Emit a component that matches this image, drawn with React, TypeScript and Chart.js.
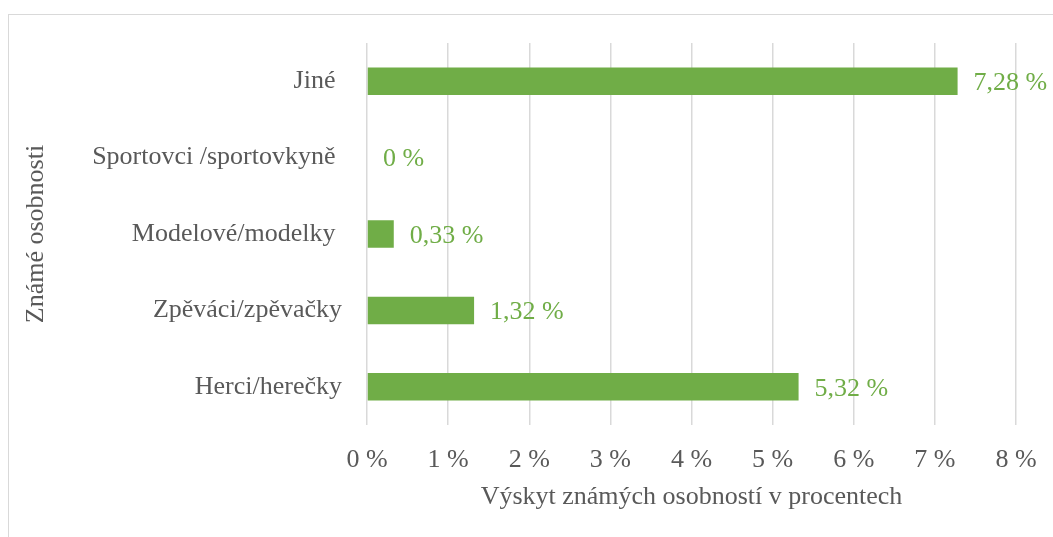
import React, { useEffect, useRef } from "react";
import { Chart, registerables } from "chart.js";

Chart.register(...registerables);

const categories = [
  "Jiné ",
  "Sportovci /sportovkyně ",
  "Modelové/modelky ",
  "Zpěváci/zpěvačky",
  "Herci/herečky",
];
const values = [7.28, 0, 0.33, 1.32, 5.32];
const valueLabels = ["7,28 %", "0 %", "0,33 %", "1,32 %", "5,32 %"];
const xTickMax = 8;
const xTitle = "Výskyt známých osobností v procentech";
const yTitle = "Známé osobnosti";

const FONT = "'Liberation Serif', 'Times New Roman', serif";
const GREEN = "#70ad47";
const TEXT = "#595959";
const GRID = "#d9d9d9";

const dataLabelPlugin = {
  id: "dataLabels",
  afterDatasetsDraw(chart: any) {
    const ctx = chart.ctx;
    const meta = chart.getDatasetMeta(0);
    ctx.save();
    ctx.font = `26px ${FONT}`;
    ctx.fillStyle = GREEN;
    ctx.textAlign = "left";
    ctx.textBaseline = "middle";
    meta.data.forEach((el: any, i: number) => {
      ctx.fillText(valueLabels[i], el.x + 16, el.y + 2);
    });
    ctx.restore();
  },
};

export default function App() {
  const ref = useRef<HTMLCanvasElement | null>(null);
  useEffect(() => {
    if (!ref.current) return;
    const chart = new Chart(ref.current, {
      type: "bar",
      data: {
        labels: categories,
        datasets: [
          {
            data: values,
            backgroundColor: GREEN,
            borderWidth: 0,
            barPercentage: 0.45,
            categoryPercentage: 0.8,
          },
        ],
      },
      options: {
        indexAxis: "y",
        animation: false,
        responsive: false,
        maintainAspectRatio: false,
        layout: { padding: { left: 0, top: 43, right: 37, bottom: 0 } },
        plugins: {
          legend: { display: false },
          tooltip: { enabled: false },
        },
        scales: {
          x: {
            min: 0,
            max: xTickMax,
            ticks: {
              stepSize: 1,
              padding: 14,
              color: TEXT,
              font: { family: FONT, size: 26, lineHeight: 1.6 },
              callback: (v: any) => `${v} %`,
              maxRotation: 0,
            },
            grid: { color: GRID, lineWidth: 1.5, drawTicks: false },
            border: { display: false },
            title: {
              display: true,
              text: xTitle,
              color: TEXT,
              font: { family: FONT, size: 26 },
              padding: { top: 0, bottom: 24 },
            },
            afterFit: (scale: any) => {
              scale.height = 112;
            },
          },
          y: {
            ticks: {
              padding: 25,
              color: TEXT,
              font: { family: FONT, size: 26 },
            },
            grid: { display: false, drawTicks: false },
            border: { display: false },
            title: {
              display: true,
              text: yTitle,
              color: TEXT,
              font: { family: FONT, size: 26 },
              padding: { top: 21, bottom: 0 },
            },
            afterFit: (scale: any) => {
              scale.width = 367;
            },
          },
        },
      },
      plugins: [dataLabelPlugin],
    });
    return () => chart.destroy();
  }, []);

  return (
    <div
      style={{
        position: "fixed",
        left: 0,
        top: 0,
        width: 1053,
        height: 537,
        overflow: "hidden",
        background: "#fff",
      }}
    >
      <div
        style={{
          position: "absolute",
          left: 8,
          top: 14,
          width: 1200,
          height: 700,
          border: `1px solid ${GRID}`,
        }}
      />
      <canvas
        ref={ref}
        width={1053}
        height={537}
        style={{ position: "absolute", left: 0, top: 0, width: 1053, height: 537 }}
      />
    </div>
  );
}
